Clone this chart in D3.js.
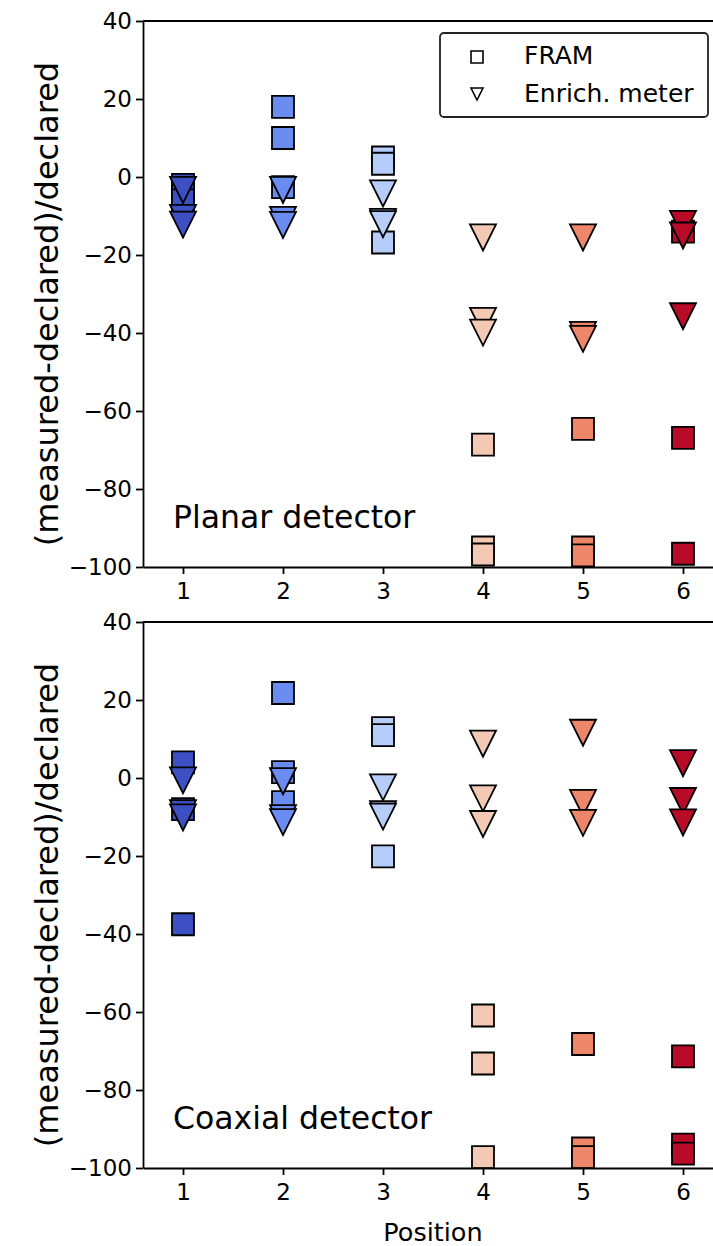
<!DOCTYPE html>
<html>
<head>
<meta charset="utf-8">
<script src="https://cdn.jsdelivr.net/npm/d3@7"></script>
<style>
  body { margin: 0; background: #fff; }
  svg { display: block; font-family: "DejaVu Sans", sans-serif; }
</style>
</head>
<body>
<svg id="chart" width="713" height="1246"></svg>
<script>
// data, one list of values per position
const positions = [1, 2, 3, 4, 5, 6];
const positionColors = ["#3d50c3", "#6a8cf0", "#b5cdf8", "#f3c9b4", "#ee8669", "#b70b28"];

const planarFram = [[-2, -3, -6], [18, 10, -2.6], [5, 3.4, -16.8], [-68.6, -95, -96.8], [-64.6, -95, -97], [-14, -66.9, -96.6]];
const planarEnrich = [[-3.3, -10.5, -12.2], [-3.3, -11, -12.3], [-4.2, -11.5, -12.1], [-15.5, -36.9, -39.9], [-15.5, -40.5, -41.5], [-12, -15, -35.7]];
const coaxialFram = [[4, -8, -37.5], [21.8, 1.5, -6.2], [12.8, 11, -20.1], [-60.9, -73.2, -97.2], [-68.2, -95, -97.2], [-71.4, -94, -96.3]];
const coaxialEnrich = [[-0.6, -9, -10.1], [-0.8, -10.3, -11.3], [-2.4, -9.3, -9.9], [8.8, -5.2, -11.8], [11.6, -6.4, -11.5], [3.8, -5.9, -11.4]];

const yTicks = [-100, -80, -60, -40, -20, 0, 20, 40];
const legendLabels = ["FRAM", "Enrich. meter"];
const panelNames = ["Planar detector", "Coaxial detector"];
const yLabel = "(measured-declared)/declared";
const xLabel = "Position";

const svg = d3.select("#chart");
const left = 143, right = 723;
const panels = [
  { top: 21, bottom: 567, fram: planarFram, enrich: planarEnrich, name: panelNames[0] },
  { top: 622, bottom: 1168, fram: coaxialFram, enrich: coaxialEnrich, name: panelNames[1] },
];

const x = d3.scaleLinear().domain([0.6, 6.4]).range([left, right]);
const color = d3.scaleOrdinal().domain(positions).range(positionColors);

const squarePath = (s) => `M${-s},${-s}H${s}V${s}H${-s}Z`;
const triPath = (s) => `M${-s},${-s}H${s}L0,${s}Z`;

// flatten [position][k] lists into points
const toPoints = (rows) =>
  rows.flatMap((vals, i) => vals.map((v) => ({ pos: positions[i], value: v })));

panels.forEach((p, pi) => {
  const y = d3.scaleLinear().domain([-100, 40]).range([p.bottom, p.top]);
  const g = svg.append("g");

  // markers: per position squares first then triangles
  positions.forEach((pos, i) => {
    g.selectAll(null)
      .data(toPoints(p.fram).filter((d) => d.pos === pos))
      .enter()
      .append("path")
      .attr("d", squarePath(11))
      .attr("transform", (d) => `translate(${x(d.pos)},${y(d.value)})`)
      .attr("fill", color(pos))
      .attr("stroke", "#000")
      .attr("stroke-width", 1.8);
    g.selectAll(null)
      .data(toPoints(p.enrich).filter((d) => d.pos === pos))
      .enter()
      .append("path")
      .attr("d", triPath(13))
      .attr("transform", (d) => `translate(${x(d.pos)},${y(d.value)})`)
      .attr("fill", color(pos))
      .attr("stroke", "#000")
      .attr("stroke-width", 1.8)
      .attr("stroke-linejoin", "miter");
  });

  // axes
  const yAxis = g.append("g")
    .attr("transform", `translate(${left},0)`)
    .call(d3.axisLeft(y).tickValues(yTicks).tickSize(7).tickSizeOuter(0).tickPadding(4));
  const xAxis = g.append("g")
    .attr("transform", `translate(0,${p.bottom})`)
    .call(d3.axisBottom(x).tickValues(positions).tickFormat(d3.format("d")).tickSize(7).tickSizeOuter(0).tickPadding(9));
  [yAxis, xAxis].forEach((a) => {
    a.selectAll("path, line").attr("stroke", "#000").attr("stroke-width", 1.8);
    a.selectAll("text").attr("fill", "#000").style("font-size", "23px").style("font-family", "DejaVu Sans");
  });
  g.append("line")
    .attr("x1", left).attr("x2", right)
    .attr("y1", p.top).attr("y2", p.top)
    .attr("stroke", "#000").attr("stroke-width", 1.8);

  g.append("text")
    .attr("transform", `translate(58,${(p.top + p.bottom) / 2 + 10}) rotate(-90)`)
    .attr("text-anchor", "middle")
    .style("font-size", "32px")
    .text(yLabel);

  g.append("text")
    .attr("x", x(0.9))
    .attr("y", y(-90))
    .style("font-size", "31.5px")
    .text(p.name);
});

svg.append("text")
  .attr("x", (left + right) / 2)
  .attr("y", 1241)
  .attr("text-anchor", "middle")
  .style("font-size", "25.5px")
  .text(xLabel);

// legend
const leg = svg.append("g").attr("transform", "translate(440,33)");
leg.append("rect")
  .attr("width", 268).attr("height", 84).attr("rx", 4)
  .attr("fill", "#fff").attr("stroke", "#222").attr("stroke-width", 1.8);
leg.append("path").attr("d", squarePath(6)).attr("transform", "translate(37,24)")
  .attr("fill", "#fff").attr("stroke", "#000").attr("stroke-width", 1.6);
leg.append("path").attr("d", triPath(6)).attr("transform", "translate(37,61)")
  .attr("fill", "#fff").attr("stroke", "#000").attr("stroke-width", 1.6);
leg.selectAll("text.lab")
  .data(legendLabels)
  .enter()
  .append("text")
  .attr("class", "lab")
  .attr("x", 84)
  .attr("y", (d, i) => 31 + i * 38)
  .style("font-size", "25px")
  .text((d) => d);
</script>
</body>
</html>
